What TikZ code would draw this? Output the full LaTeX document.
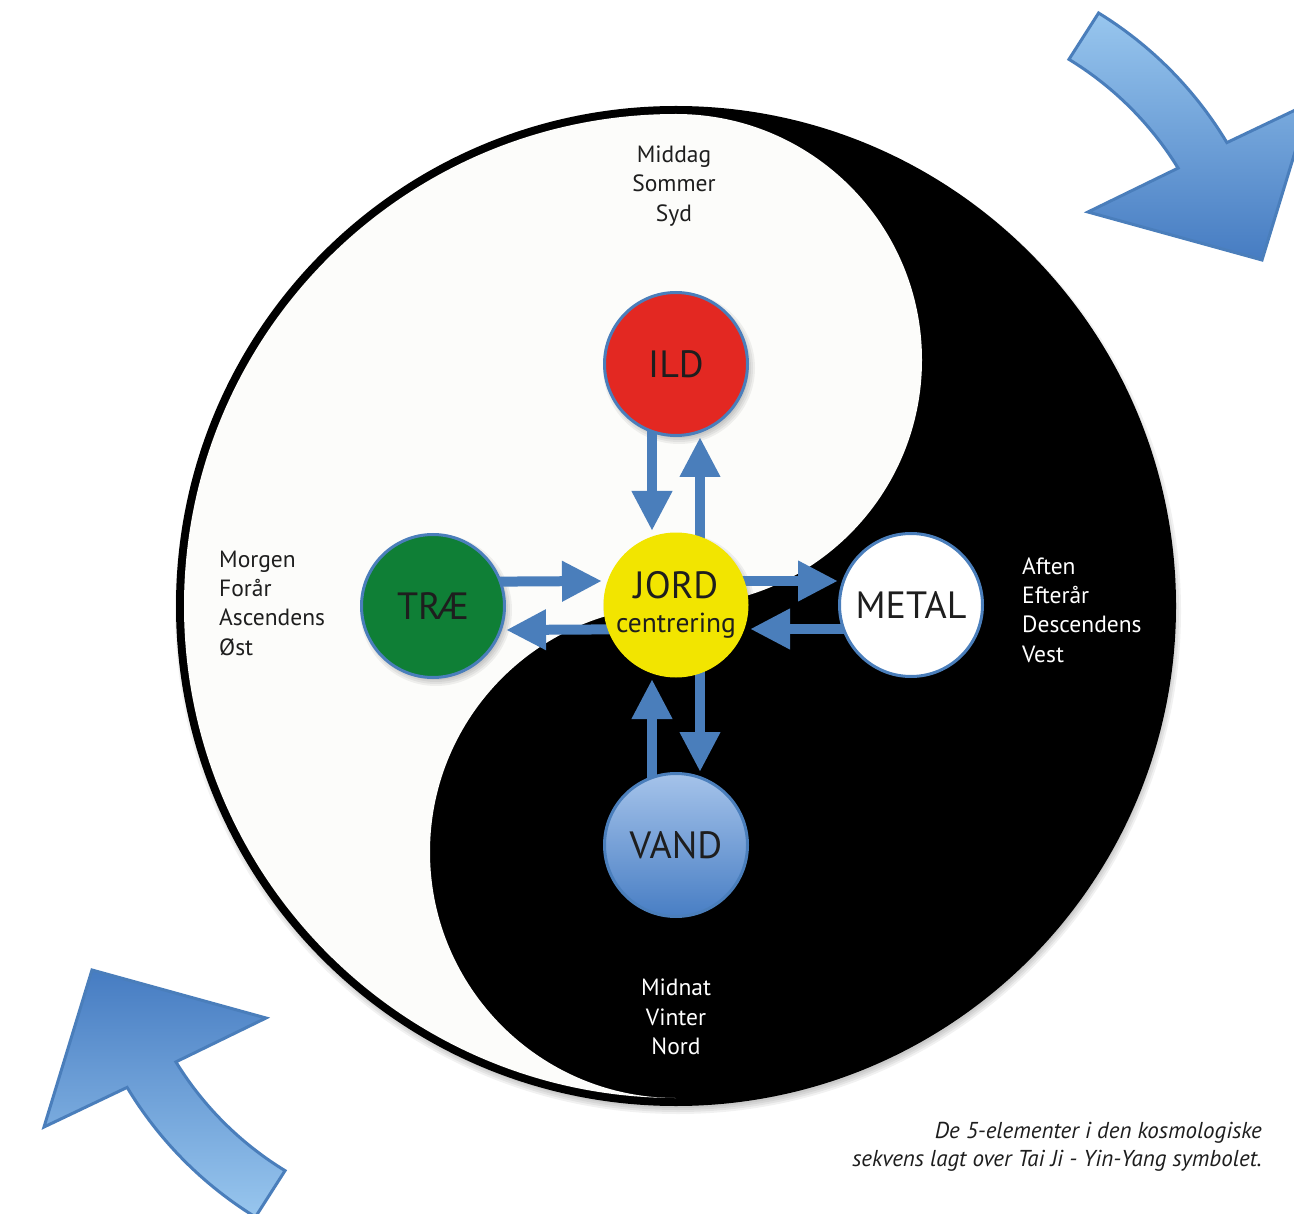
\documentclass[tikz,border=0pt]{standalone}
\usepackage{fontspec}
\setmainfont{PT Sans}
\usetikzlibrary{arrows.meta}
\definecolor{ablue}{RGB}{74,126,187}
\definecolor{ildred}{RGB}{227,40,34}
\definecolor{traegreen}{RGB}{15,127,54}
\definecolor{jordyellow}{RGB}{242,229,0}
\definecolor{offwhite}{RGB}{252,252,250}
\definecolor{txt}{RGB}{30,30,30}
\definecolor{lightarrow}{RGB}{152,198,238}
\definecolor{darkarrow}{RGB}{70,124,194}
\definecolor{vandtop}{RGB}{165,195,234}
\definecolor{vandbot}{RGB}{72,126,196}
\pgfdeclarelayer{back}
\pgfdeclarelayer{mid}
\pgfsetlayers{back,mid,main}
\newcommand\softshade[3]{%
  \foreach \rr in {0,2,4,6} {\fill[black, opacity=0.055] (#1) circle[radius=#2+\rr-#3];}}
\begin{document}
\begin{tikzpicture}[x=1pt,y=-1pt,
  element/.style={circle, minimum size=143pt, inner sep=0pt, draw=ablue, line width=3pt, text=txt,
    font=\fontsize{38}{40}\selectfont},
  link/.style={draw=ablue, line width=10pt, -{Triangle[width=38pt,length=40pt]}},
  season/.style={font=\fontsize{23.5}{29.3}\selectfont, text=txt, inner sep=0pt},
  bigarrow/.style={line width=3pt, draw=ablue, line join=miter},
]
\useasboundingbox (0,0) rectangle (1294,1214);
\clip (0,0) rectangle (1294,1214);

\begin{pgfonlayer}{back}
\fill[white] (0,0) rectangle (1294,1214);
% Yin-Yang with soft shadow
\softshade{678,611}{500}{3}
\fill[black] (676,606) circle[radius=500];
\fill[offwhite] (676,114) arc[start angle=-90, end angle=-270, radius=492]
  arc[start angle=90, end angle=270, radius=246]
  arc[start angle=90, end angle=-90, radius=246] -- cycle;
% element shadows
\softshade{679,368}{72}{2}
\softshade{436,610}{72}{2}
\softshade{679,609}{72}{2}
\softshade{914,609}{72}{2}
\softshade{679,849}{72}{2}
\end{pgfonlayer}

% curved arrows
\path[bigarrow, top color=lightarrow, bottom color=darkarrow]
  (1098.6,13.0) arc[start angle=-58.4, end angle=-31, radius=385]
  -- (1310,103) -- (1262,260) -- (1088,212) -- (1178.1,168.1)
  arc[start angle=-31.6, end angle=-58.6, radius=330] -- cycle;
\path[bigarrow, top color=darkarrow, bottom color=lightarrow]
  (255.4,1217.0) arc[start angle=121.6, end angle=149, radius=385]
  -- (44,1127) -- (92,970) -- (266,1018) -- (175.9,1061.9)
  arc[start angle=148.4, end angle=121.4, radius=330] -- cycle;

% elements
\node[element, fill=ildred] (ild) at (676,364) {ILD};
\node[element, fill=traegreen] (trae) at (433,606) {TRÆ};
\node[element, fill=jordyellow, draw=none, minimum size=145pt, align=center] (jord) at (676,605)
  {JORD\\[-6pt]\fontsize{27.5}{30}\selectfont centrering};
\node[element, fill=white] (metal) at (911,605) {METAL};
\node[element, top color=vandtop, bottom color=vandbot] (vand) at (676,845) {VAND};

\begin{pgfonlayer}{mid}
\draw[link] ([xshift=-24pt]ild.center) -- ([xshift=-24pt]jord.north);
\draw[link] ([xshift=24pt]jord.center) -- ([xshift=24pt]ild.south);
\draw[link] ([yshift=24pt]trae.center) -- ([yshift=24pt]jord.west);
\draw[link] ([yshift=-24pt]jord.center) -- ([yshift=-24pt]trae.east);
\draw[link] ([yshift=24pt]jord.center) -- ([yshift=24pt]metal.west);
\draw[link] ([yshift=-24pt]metal.center) -- ([yshift=-24pt]jord.east);
\draw[link] ([xshift=-24pt]vand.center) -- ([xshift=-24pt]jord.south);
\draw[link] ([xshift=24pt]jord.center) -- ([xshift=24pt]vand.north);
\end{pgfonlayer}

% labels
\node[season, align=center] (noon) at (674,186) {Middag\\Sommer\\Syd};
\node[season, align=left, anchor=west] (east) at (219,603) {Morgen\\Forår\\Ascendens\\Øst};
\node[season, align=left, anchor=west, text=white] (westlbl) at (1022,610) {Aften\\Efterår\\Descendens\\Vest};
\node[season, align=center, text=white] (northlbl) at (676,1017) {Midnat\\Vinter\\Nord};
\node[font=\fontsize{23}{28}\selectfont\itshape, align=right, anchor=east, text=txt, inner sep=0pt] (caption) at (1262,1147)
  {De 5-elementer i den kosmologiske\\sekvens lagt over Tai Ji - Yin-Yang symbolet.};
\end{tikzpicture}
\end{document}
